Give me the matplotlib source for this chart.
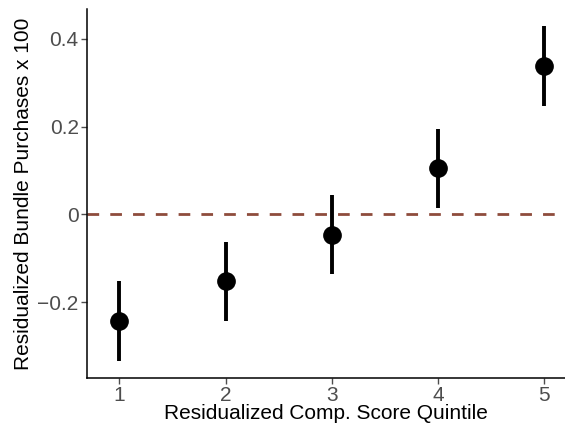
import matplotlib
matplotlib.use('Agg')
from matplotlib import pyplot as plt

plt.rcParams['font.family'] = ['Liberation Sans', 'DejaVu Sans']

quintile = [1, 2, 3, 4, 5]
estimate = [-0.242, -0.152, -0.047, 0.105, 0.338]
ci_low = [-0.334, -0.243, -0.136, 0.014, 0.247]
ci_high = [-0.152, -0.063, 0.044, 0.194, 0.430]
yticks = [-0.2, 0, 0.2, 0.4]
ytick_labels = ['\u22120.2', '0', '0.2', '0.4']

fig = plt.figure(figsize=(5.65, 4.3), dpi=100)
ax = fig.add_axes([87 / 565, 52 / 430, 1 - 87 / 565, 369 / 430])

ax.axhline(0, color='#8E4C3C', lw=2, dashes=(4.2, 4.0), zorder=1)
ax.vlines(quintile, ci_low, ci_high, color='black', lw=2.8, zorder=2)
ax.scatter(quintile, estimate, s=155, color='black', zorder=3)

ax.set_xlim(0.694, 5.198)
ax.set_ylim(-0.373, 0.468)
ax.set_xticks(quintile)
ax.set_yticks(yticks)
ax.set_yticklabels(ytick_labels)
ax.tick_params(labelsize=15, colors='#4D4D4D', labelcolor='#4D4D4D', length=4, width=1, pad=2)
for side in ['top', 'right']:
    ax.spines[side].set_visible(False)
for side in ['left', 'bottom']:
    ax.spines[side].set_linewidth(1.1)

ax.set_xlabel('Residualized Comp. Score Quintile', fontsize=15, labelpad=-1)
ax.set_ylabel('Residualized Bundle Purchases x 100', fontsize=15, labelpad=3)

fig.savefig('out.png', dpi=100)
